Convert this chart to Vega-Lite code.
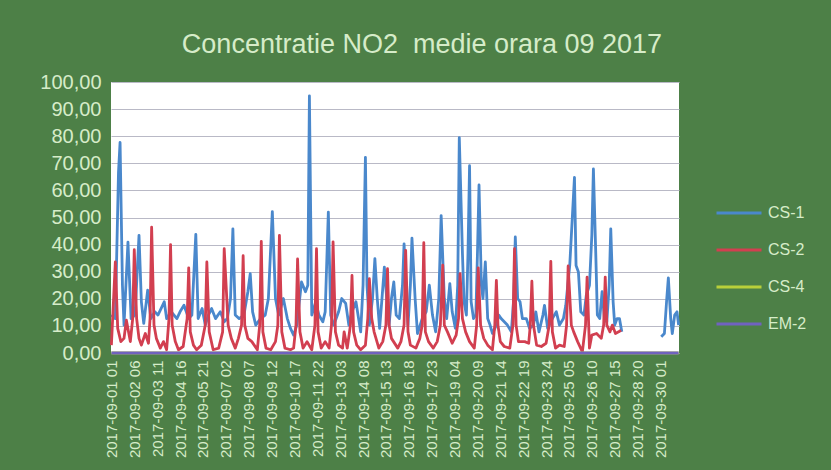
{
"$schema":"https://vega.github.io/schema/vega-lite/v6.json",
"autosize":{"type":"none"},
"width":568,"height":271,
"padding":{"left":111,"top":82,"right":152,"bottom":117},
"background":"#4d8047",
"title":{"text":"Concentratie NO2\u00a0 medie orara 09 2017","font":"Liberation Sans","fontSize":27,"fontWeight":"normal","color":"#d6ecc9","anchor":"middle","dx":27,"offset":13},
"config":{"view":{"fill":"white","stroke":null}},
"data":{"values":[
{"s":"CS-1","g":1,"h":0,"v":14},{"s":"CS-1","g":1,"h":5,"v":12.7},{"s":"CS-1","g":1,"h":9,"v":66.7},{"s":"CS-1","g":1,"h":11,"v":77.7},{"s":"CS-1","g":1,"h":14,"v":25},{"s":"CS-1","g":1,"h":16,"v":10.3},{"s":"CS-1","g":1,"h":21,"v":40.9},{"s":"CS-1","g":1,"h":25,"v":12.7},{"s":"CS-1","g":1,"h":30,"v":14},{"s":"CS-1","g":1,"h":35,"v":43.4},{"s":"CS-1","g":1,"h":38,"v":18.9},{"s":"CS-1","g":1,"h":41,"v":10.9},{"s":"CS-1","g":1,"h":46,"v":23.2},{"s":"CS-1","g":1,"h":50,"v":12.7},{"s":"CS-1","g":1,"h":55,"v":15.2},{"s":"CS-1","g":1,"h":59,"v":14},{"s":"CS-1","g":1,"h":64,"v":17},{"s":"CS-1","g":1,"h":67,"v":18.9},{"s":"CS-1","g":1,"h":70,"v":12.7},{"s":"CS-1","g":1,"h":76,"v":15.2},{"s":"CS-1","g":1,"h":83,"v":12.7},{"s":"CS-1","g":1,"h":87,"v":15.2},{"s":"CS-1","g":1,"h":92,"v":17.6},{"s":"CS-1","g":1,"h":98,"v":12.7},{"s":"CS-1","g":1,"h":102,"v":14},{"s":"CS-1","g":1,"h":107,"v":43.8},{"s":"CS-1","g":1,"h":110,"v":12.7},{"s":"CS-1","g":1,"h":115,"v":16.4},{"s":"CS-1","g":1,"h":119,"v":10.3},{"s":"CS-1","g":1,"h":123,"v":14},{"s":"CS-1","g":1,"h":127,"v":16.4},{"s":"CS-1","g":1,"h":132,"v":12.7},{"s":"CS-1","g":1,"h":138,"v":15.2},{"s":"CS-1","g":1,"h":143,"v":11.5},{"s":"CS-1","g":1,"h":147,"v":12.7},{"s":"CS-1","g":1,"h":151,"v":20.1},{"s":"CS-1","g":1,"h":154,"v":45.8},{"s":"CS-1","g":1,"h":157,"v":14},{"s":"CS-1","g":1,"h":162,"v":12.7},{"s":"CS-1","g":1,"h":168,"v":14},{"s":"CS-1","g":1,"h":173,"v":22.6},{"s":"CS-1","g":1,"h":176,"v":29.3},{"s":"CS-1","g":1,"h":179,"v":15.2},{"s":"CS-1","g":1,"h":183,"v":10.3},{"s":"CS-1","g":1,"h":189,"v":12.7},{"s":"CS-1","g":1,"h":195,"v":14},{"s":"CS-1","g":1,"h":199,"v":20.1},{"s":"CS-1","g":1,"h":204,"v":52.2},{"s":"CS-1","g":1,"h":208,"v":20.1},{"s":"CS-1","g":1,"h":212,"v":14},{"s":"CS-1","g":1,"h":218,"v":20.1},{"s":"CS-1","g":1,"h":223,"v":12.7},{"s":"CS-1","g":1,"h":227,"v":9.1},{"s":"CS-1","g":1,"h":231,"v":6.6},{"s":"CS-1","g":1,"h":235,"v":10.3},{"s":"CS-1","g":1,"h":241,"v":26.2},{"s":"CS-1","g":1,"h":246,"v":22.6},{"s":"CS-1","g":1,"h":249,"v":25},{"s":"CS-1","g":1,"h":251,"v":94.9},{"s":"CS-1","g":1,"h":254,"v":14},{"s":"CS-1","g":1,"h":259,"v":18.9},{"s":"CS-1","g":1,"h":263,"v":14},{"s":"CS-1","g":1,"h":268,"v":11.5},{"s":"CS-1","g":1,"h":271,"v":15.2},{"s":"CS-1","g":1,"h":275,"v":52},{"s":"CS-1","g":1,"h":278,"v":14},{"s":"CS-1","g":1,"h":282,"v":10.3},{"s":"CS-1","g":1,"h":288,"v":15.2},{"s":"CS-1","g":1,"h":292,"v":20.1},{"s":"CS-1","g":1,"h":297,"v":18.3},{"s":"CS-1","g":1,"h":301,"v":10.3},{"s":"CS-1","g":1,"h":305,"v":15.2},{"s":"CS-1","g":1,"h":310,"v":18.9},{"s":"CS-1","g":1,"h":316,"v":7.8},{"s":"CS-1","g":1,"h":319,"v":25},{"s":"CS-1","g":1,"h":322,"v":72.2},{"s":"CS-1","g":1,"h":324,"v":25},{"s":"CS-1","g":1,"h":327,"v":10.3},{"s":"CS-1","g":1,"h":331,"v":20.1},{"s":"CS-1","g":1,"h":334,"v":34.8},{"s":"CS-1","g":1,"h":337,"v":20.1},{"s":"CS-1","g":1,"h":340,"v":9.1},{"s":"CS-1","g":1,"h":343,"v":20.1},{"s":"CS-1","g":1,"h":346,"v":31.7},{"s":"CS-1","g":1,"h":349,"v":20.1},{"s":"CS-1","g":1,"h":352,"v":10.3},{"s":"CS-1","g":1,"h":355,"v":20.1},{"s":"CS-1","g":1,"h":358,"v":26.2},{"s":"CS-1","g":1,"h":361,"v":14},{"s":"CS-1","g":1,"h":365,"v":12.7},{"s":"CS-1","g":1,"h":369,"v":25},{"s":"CS-1","g":1,"h":371,"v":40.3},{"s":"CS-1","g":1,"h":374,"v":20.1},{"s":"CS-1","g":1,"h":376,"v":10.3},{"s":"CS-1","g":1,"h":379,"v":25},{"s":"CS-1","g":1,"h":381,"v":42.4},{"s":"CS-1","g":1,"h":385,"v":20.1},{"s":"CS-1","g":1,"h":388,"v":7.2},{"s":"CS-1","g":1,"h":394,"v":12.7},{"s":"CS-1","g":1,"h":399,"v":15.2},{"s":"CS-1","g":1,"h":403,"v":25},{"s":"CS-1","g":1,"h":407,"v":14},{"s":"CS-1","g":1,"h":411,"v":7.8},{"s":"CS-1","g":1,"h":415,"v":20.1},{"s":"CS-1","g":1,"h":418,"v":50.7},{"s":"CS-1","g":1,"h":422,"v":20.1},{"s":"CS-1","g":1,"h":425,"v":12.7},{"s":"CS-1","g":1,"h":429,"v":25.6},{"s":"CS-1","g":1,"h":432,"v":15.2},{"s":"CS-1","g":1,"h":436,"v":9.1},{"s":"CS-1","g":1,"h":439,"v":25},{"s":"CS-1","g":1,"h":441,"v":79.5},{"s":"CS-1","g":1,"h":445,"v":36.6},{"s":"CS-1","g":1,"h":447,"v":18.9},{"s":"CS-1","g":1,"h":450,"v":14},{"s":"CS-1","g":1,"h":452,"v":36.6},{"s":"CS-1","g":1,"h":454,"v":69.1},{"s":"CS-1","g":1,"h":456,"v":18.9},{"s":"CS-1","g":1,"h":459,"v":12.7},{"s":"CS-1","g":1,"h":462,"v":14},{"s":"CS-1","g":1,"h":464,"v":36.6},{"s":"CS-1","g":1,"h":466,"v":62},{"s":"CS-1","g":1,"h":469,"v":25},{"s":"CS-1","g":1,"h":471,"v":20.1},{"s":"CS-1","g":1,"h":474,"v":33.6},{"s":"CS-1","g":1,"h":477,"v":12.7},{"s":"CS-1","g":1,"h":480,"v":10.3},{"s":"CS-1","g":1,"h":483,"v":7.2},{"s":"CS-1","g":1,"h":488,"v":10.3},{"s":"CS-1","g":1,"h":491,"v":14},{"s":"CS-1","g":1,"h":494,"v":12.7},{"s":"CS-1","g":1,"h":498,"v":11.5},{"s":"CS-1","g":1,"h":502,"v":10.3},{"s":"CS-1","g":1,"h":507,"v":7.8},{"s":"CS-1","g":1,"h":510,"v":20.1},{"s":"CS-1","g":1,"h":512,"v":42.8},{"s":"CS-1","g":1,"h":515,"v":20.1},{"s":"CS-1","g":1,"h":518,"v":18.9},{"s":"CS-1","g":1,"h":521,"v":12.7},{"s":"CS-1","g":1,"h":526,"v":12.7},{"s":"CS-1","g":1,"h":530,"v":9.1},{"s":"CS-1","g":1,"h":535,"v":10.3},{"s":"CS-1","g":1,"h":538,"v":15.2},{"s":"CS-1","g":1,"h":542,"v":7.8},{"s":"CS-1","g":1,"h":547,"v":14},{"s":"CS-1","g":1,"h":549,"v":17.6},{"s":"CS-1","g":1,"h":553,"v":9.1},{"s":"CS-1","g":1,"h":559,"v":12.7},{"s":"CS-1","g":1,"h":564,"v":15.2},{"s":"CS-1","g":1,"h":568,"v":10.3},{"s":"CS-1","g":1,"h":573,"v":12.7},{"s":"CS-1","g":1,"h":576,"v":17.6},{"s":"CS-1","g":1,"h":581,"v":32.3},{"s":"CS-1","g":1,"h":587,"v":64.8},{"s":"CS-1","g":1,"h":589,"v":32.3},{"s":"CS-1","g":1,"h":592,"v":29.9},{"s":"CS-1","g":1,"h":595,"v":15.2},{"s":"CS-1","g":1,"h":599,"v":14},{"s":"CS-1","g":1,"h":602,"v":21.3},{"s":"CS-1","g":1,"h":606,"v":25},{"s":"CS-1","g":1,"h":609,"v":43.4},{"s":"CS-1","g":1,"h":611,"v":67.9},{"s":"CS-1","g":1,"h":614,"v":36.6},{"s":"CS-1","g":1,"h":616,"v":14},{"s":"CS-1","g":1,"h":619,"v":12.7},{"s":"CS-1","g":1,"h":622,"v":22.6},{"s":"CS-1","g":1,"h":625,"v":12.7},{"s":"CS-1","g":1,"h":628,"v":11.5},{"s":"CS-1","g":1,"h":631,"v":25},{"s":"CS-1","g":1,"h":633,"v":45.8},{"s":"CS-1","g":1,"h":636,"v":18.9},{"s":"CS-1","g":1,"h":638,"v":10.3},{"s":"CS-1","g":1,"h":641,"v":12.7},{"s":"CS-1","g":1,"h":644,"v":12.7},{"s":"CS-1","g":1,"h":647,"v":7.8},
{"s":"CS-1","g":2,"h":697,"v":6},{"s":"CS-1","g":2,"h":701,"v":7.2},{"s":"CS-1","g":2,"h":704,"v":20.1},{"s":"CS-1","g":2,"h":706,"v":27.7},{"s":"CS-1","g":2,"h":709,"v":12.7},{"s":"CS-1","g":2,"h":711,"v":7.2},{"s":"CS-1","g":2,"h":714,"v":14},{"s":"CS-1","g":2,"h":717,"v":15.2},{"s":"CS-1","g":2,"h":719,"v":10.3},
{"s":"CS-2","g":1,"h":0,"v":2.9},{"s":"CS-2","g":1,"h":5,"v":33.6},{"s":"CS-2","g":1,"h":8,"v":9.1},{"s":"CS-2","g":1,"h":12,"v":4.2},{"s":"CS-2","g":1,"h":16,"v":5.4},{"s":"CS-2","g":1,"h":19,"v":12.1},{"s":"CS-2","g":1,"h":24,"v":4.2},{"s":"CS-2","g":1,"h":27,"v":12.7},{"s":"CS-2","g":1,"h":29,"v":38.1},{"s":"CS-2","g":1,"h":32,"v":12.7},{"s":"CS-2","g":1,"h":35,"v":5.4},{"s":"CS-2","g":1,"h":38,"v":2.9},{"s":"CS-2","g":1,"h":43,"v":7.2},{"s":"CS-2","g":1,"h":47,"v":3.6},{"s":"CS-2","g":1,"h":49,"v":12.7},{"s":"CS-2","g":1,"h":51,"v":46.4},{"s":"CS-2","g":1,"h":54,"v":10.3},{"s":"CS-2","g":1,"h":57,"v":5.4},{"s":"CS-2","g":1,"h":62,"v":1.8},{"s":"CS-2","g":1,"h":66,"v":4.2},{"s":"CS-2","g":1,"h":70,"v":1.2},{"s":"CS-2","g":1,"h":73,"v":12.7},{"s":"CS-2","g":1,"h":75,"v":40},{"s":"CS-2","g":1,"h":77,"v":10.3},{"s":"CS-2","g":1,"h":81,"v":4.2},{"s":"CS-2","g":1,"h":85,"v":1.2},{"s":"CS-2","g":1,"h":91,"v":2.4},{"s":"CS-2","g":1,"h":96,"v":12.7},{"s":"CS-2","g":1,"h":98,"v":31.4},{"s":"CS-2","g":1,"h":100,"v":7.8},{"s":"CS-2","g":1,"h":104,"v":2.9},{"s":"CS-2","g":1,"h":108,"v":1.2},{"s":"CS-2","g":1,"h":114,"v":2.9},{"s":"CS-2","g":1,"h":119,"v":10.3},{"s":"CS-2","g":1,"h":121,"v":33.6},{"s":"CS-2","g":1,"h":124,"v":7.8},{"s":"CS-2","g":1,"h":129,"v":1.2},{"s":"CS-2","g":1,"h":136,"v":1.8},{"s":"CS-2","g":1,"h":141,"v":7.8},{"s":"CS-2","g":1,"h":143,"v":38.5},{"s":"CS-2","g":1,"h":148,"v":10.3},{"s":"CS-2","g":1,"h":152,"v":5.4},{"s":"CS-2","g":1,"h":157,"v":1.8},{"s":"CS-2","g":1,"h":161,"v":5.4},{"s":"CS-2","g":1,"h":165,"v":10.3},{"s":"CS-2","g":1,"h":167,"v":35.9},{"s":"CS-2","g":1,"h":169,"v":10.3},{"s":"CS-2","g":1,"h":173,"v":5.4},{"s":"CS-2","g":1,"h":178,"v":4.2},{"s":"CS-2","g":1,"h":185,"v":1.2},{"s":"CS-2","g":1,"h":188,"v":10.3},{"s":"CS-2","g":1,"h":190,"v":41.2},{"s":"CS-2","g":1,"h":192,"v":7.8},{"s":"CS-2","g":1,"h":196,"v":1.8},{"s":"CS-2","g":1,"h":202,"v":1.2},{"s":"CS-2","g":1,"h":208,"v":4.2},{"s":"CS-2","g":1,"h":211,"v":10.3},{"s":"CS-2","g":1,"h":213,"v":43.4},{"s":"CS-2","g":1,"h":216,"v":7.8},{"s":"CS-2","g":1,"h":220,"v":1.8},{"s":"CS-2","g":1,"h":227,"v":1.2},{"s":"CS-2","g":1,"h":231,"v":1.8},{"s":"CS-2","g":1,"h":234,"v":10.3},{"s":"CS-2","g":1,"h":236,"v":34.7},{"s":"CS-2","g":1,"h":239,"v":7.8},{"s":"CS-2","g":1,"h":243,"v":1.8},{"s":"CS-2","g":1,"h":248,"v":4.2},{"s":"CS-2","g":1,"h":254,"v":1.2},{"s":"CS-2","g":1,"h":258,"v":10.3},{"s":"CS-2","g":1,"h":260,"v":38.5},{"s":"CS-2","g":1,"h":262,"v":7.8},{"s":"CS-2","g":1,"h":266,"v":1.8},{"s":"CS-2","g":1,"h":271,"v":4.2},{"s":"CS-2","g":1,"h":276,"v":1.8},{"s":"CS-2","g":1,"h":279,"v":10.3},{"s":"CS-2","g":1,"h":281,"v":41},{"s":"CS-2","g":1,"h":284,"v":7.8},{"s":"CS-2","g":1,"h":288,"v":2.9},{"s":"CS-2","g":1,"h":293,"v":1.8},{"s":"CS-2","g":1,"h":295,"v":7.8},{"s":"CS-2","g":1,"h":299,"v":1.8},{"s":"CS-2","g":1,"h":303,"v":10.3},{"s":"CS-2","g":1,"h":305,"v":28.6},{"s":"CS-2","g":1,"h":307,"v":7.8},{"s":"CS-2","g":1,"h":311,"v":2.9},{"s":"CS-2","g":1,"h":316,"v":1.2},{"s":"CS-2","g":1,"h":322,"v":2.9},{"s":"CS-2","g":1,"h":325,"v":12.7},{"s":"CS-2","g":1,"h":327,"v":27.4},{"s":"CS-2","g":1,"h":330,"v":12.7},{"s":"CS-2","g":1,"h":333,"v":7.8},{"s":"CS-2","g":1,"h":339,"v":1.8},{"s":"CS-2","g":1,"h":344,"v":4.2},{"s":"CS-2","g":1,"h":348,"v":10.3},{"s":"CS-2","g":1,"h":350,"v":31.1},{"s":"CS-2","g":1,"h":352,"v":10.3},{"s":"CS-2","g":1,"h":355,"v":5.4},{"s":"CS-2","g":1,"h":363,"v":1.8},{"s":"CS-2","g":1,"h":367,"v":4.2},{"s":"CS-2","g":1,"h":371,"v":10.3},{"s":"CS-2","g":1,"h":373,"v":37.9},{"s":"CS-2","g":1,"h":376,"v":7.8},{"s":"CS-2","g":1,"h":379,"v":2.9},{"s":"CS-2","g":1,"h":386,"v":1.8},{"s":"CS-2","g":1,"h":391,"v":5.4},{"s":"CS-2","g":1,"h":394,"v":10.3},{"s":"CS-2","g":1,"h":396,"v":40.7},{"s":"CS-2","g":1,"h":398,"v":7.8},{"s":"CS-2","g":1,"h":402,"v":4.2},{"s":"CS-2","g":1,"h":408,"v":1.8},{"s":"CS-2","g":1,"h":413,"v":4.2},{"s":"CS-2","g":1,"h":417,"v":10.3},{"s":"CS-2","g":1,"h":420,"v":32.4},{"s":"CS-2","g":1,"h":422,"v":10.3},{"s":"CS-2","g":1,"h":426,"v":7.8},{"s":"CS-2","g":1,"h":432,"v":3.6},{"s":"CS-2","g":1,"h":437,"v":6.6},{"s":"CS-2","g":1,"h":440,"v":12.7},{"s":"CS-2","g":1,"h":442,"v":29.3},{"s":"CS-2","g":1,"h":445,"v":12.7},{"s":"CS-2","g":1,"h":449,"v":7.8},{"s":"CS-2","g":1,"h":454,"v":4.2},{"s":"CS-2","g":1,"h":460,"v":1.8},{"s":"CS-2","g":1,"h":463,"v":10.3},{"s":"CS-2","g":1,"h":465,"v":31.4},{"s":"CS-2","g":1,"h":468,"v":10.3},{"s":"CS-2","g":1,"h":472,"v":5.4},{"s":"CS-2","g":1,"h":477,"v":2.9},{"s":"CS-2","g":1,"h":483,"v":1.2},{"s":"CS-2","g":1,"h":486,"v":10.3},{"s":"CS-2","g":1,"h":488,"v":26.8},{"s":"CS-2","g":1,"h":490,"v":10.3},{"s":"CS-2","g":1,"h":493,"v":4.2},{"s":"CS-2","g":1,"h":498,"v":2.4},{"s":"CS-2","g":1,"h":505,"v":1.8},{"s":"CS-2","g":1,"h":509,"v":10.3},{"s":"CS-2","g":1,"h":511,"v":38.5},{"s":"CS-2","g":1,"h":513,"v":10.3},{"s":"CS-2","g":1,"h":516,"v":4.2},{"s":"CS-2","g":1,"h":524,"v":4.2},{"s":"CS-2","g":1,"h":529,"v":3.6},{"s":"CS-2","g":1,"h":531,"v":10.3},{"s":"CS-2","g":1,"h":533,"v":26.5},{"s":"CS-2","g":1,"h":535,"v":10.3},{"s":"CS-2","g":1,"h":539,"v":2.9},{"s":"CS-2","g":1,"h":545,"v":2.4},{"s":"CS-2","g":1,"h":551,"v":3.6},{"s":"CS-2","g":1,"h":555,"v":10.3},{"s":"CS-2","g":1,"h":557,"v":33.8},{"s":"CS-2","g":1,"h":559,"v":7.8},{"s":"CS-2","g":1,"h":563,"v":1.8},{"s":"CS-2","g":1,"h":568,"v":2.9},{"s":"CS-2","g":1,"h":574,"v":2.4},{"s":"CS-2","g":1,"h":577,"v":10.3},{"s":"CS-2","g":1,"h":579,"v":32.1},{"s":"CS-2","g":1,"h":583,"v":10.3},{"s":"CS-2","g":1,"h":586,"v":7.8},{"s":"CS-2","g":1,"h":591,"v":4.2},{"s":"CS-2","g":1,"h":597,"v":0.4},{"s":"CS-2","g":1,"h":601,"v":10.3},{"s":"CS-2","g":1,"h":603,"v":28},{"s":"CS-2","g":1,"h":606,"v":1.8},{"s":"CS-2","g":1,"h":609,"v":6.6},{"s":"CS-2","g":1,"h":615,"v":7.2},{"s":"CS-2","g":1,"h":621,"v":5.4},{"s":"CS-2","g":1,"h":624,"v":10.3},{"s":"CS-2","g":1,"h":626,"v":28},{"s":"CS-2","g":1,"h":628,"v":10.3},{"s":"CS-2","g":1,"h":632,"v":7.8},{"s":"CS-2","g":1,"h":635,"v":10.3},{"s":"CS-2","g":1,"h":639,"v":7.2},{"s":"CS-2","g":1,"h":643,"v":7.8},{"s":"CS-2","g":1,"h":646,"v":8.4},
{"s":"CS-4","g":1,"h":0,"v":0},{"s":"CS-4","g":1,"h":360,"v":0},{"s":"CS-4","g":1,"h":719,"v":0},
{"s":"EM-2","g":1,"h":0,"v":0},{"s":"EM-2","g":1,"h":360,"v":0},{"s":"EM-2","g":1,"h":719,"v":0}
]},
"mark":{"type":"line","strokeWidth":2.8,"strokeJoin":"round"},
"encoding":{
"x":{"field":"h","type":"quantitative","scale":{"domain":[-0.5,719.5],"nice":false,"zero":false},
"axis":{"title":null,"values":[0,29,58,87,116,145,174,203,232,261,290,319,348,377,406,435,464,493,522,551,580,609,638,667,696],
"labelExpr":"'2017-09-' + (floor(datum.value/24)+1 < 10 ? '0' : '') + (floor(datum.value/24)+1) + ' ' + (datum.value%24+1 < 10 ? '0' : '') + (datum.value%24+1)",
"labelAngle":-90,"labelFont":"Liberation Sans","labelFontSize":15,"labelColor":"#d6ecc9","labelPadding":7,"labelOverlap":false,"labelBound":false,"domain":false,"ticks":false,"tickSize":0,"grid":false}},
"y":{"field":"v","type":"quantitative","scale":{"domain":[0,100],"nice":false},
"axis":{"title":null,"values":[0,10,20,30,40,50,60,70,80,90,100],"labelExpr":"replace(format(datum.value, '.2f'), '.', ',')",
"labelFont":"Liberation Sans","labelFontSize":20,"labelColor":"#d6ecc9","labelPadding":10,"domain":false,"ticks":false,"tickSize":0,"grid":true,"gridColor":"#b9b9c6","gridWidth":1}},
"color":{"field":"s","type":"nominal","scale":{"domain":["CS-1","CS-2","CS-4","EM-2"],"range":["#4a88cc","#d23f50","#b9cf3a","#7062bf"]},
"legend":{"title":null,"orient":"none","legendX":604,"legendY":107,"symbolType":"stroke","symbolSize":2025,"symbolStrokeWidth":3,"labelFont":"Liberation Sans","labelFontSize":16,"labelColor":"#d6ecc9","labelOffset":5,"rowPadding":5}},
"detail":{"field":"g","type":"nominal"}
}
}
